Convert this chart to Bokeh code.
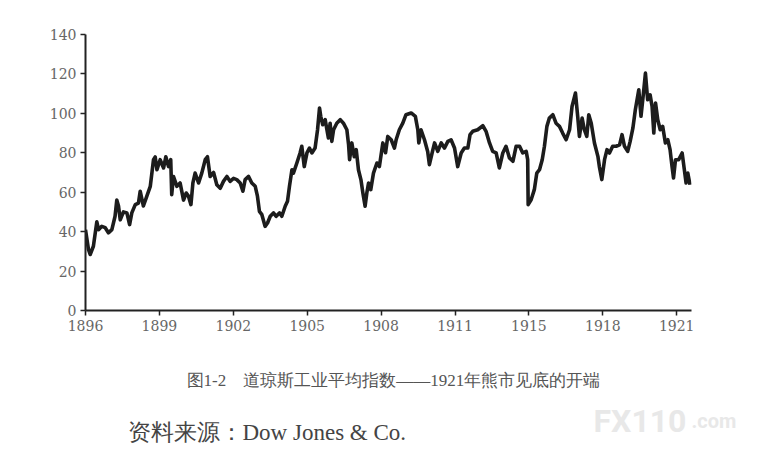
from bokeh.plotting import figure
from bokeh.layouts import column, row
from bokeh.models import Range1d, FixedTicker
from bokeh.core.properties import value
from bokeh.embed import file_html
from bokeh.resources import INLINE

# ---- data ----
years = [
    1896.00, 1896.12, 1896.19, 1896.32, 1896.46, 1896.53, 1896.66, 1896.80, 1896.93,
    1897.07, 1897.20, 1897.27, 1897.34, 1897.41, 1897.54, 1897.68, 1897.79, 1897.88,
    1898.02, 1898.15, 1898.22, 1898.35, 1898.49, 1898.63, 1898.76, 1898.83, 1898.90,
    1899.03, 1899.17, 1899.26, 1899.37, 1899.46, 1899.50, 1899.57, 1899.71, 1899.84,
    1899.98, 1900.09, 1900.18, 1900.28, 1900.36, 1900.45, 1900.59, 1900.72, 1900.86,
    1900.95, 1901.06, 1901.20, 1901.33, 1901.47, 1901.60, 1901.74, 1901.87, 1902.01,
    1902.14, 1902.28, 1902.39, 1902.48, 1902.62, 1902.75, 1902.89, 1902.98, 1903.06,
    1903.16, 1903.29, 1903.39, 1903.50, 1903.63, 1903.74, 1903.88, 1903.97, 1904.11,
    1904.20, 1904.28, 1904.38, 1904.44, 1904.58, 1904.71, 1904.78, 1904.88, 1904.99,
    1905.09, 1905.19, 1905.32, 1905.42, 1905.50, 1905.55, 1905.63, 1905.73, 1905.80,
    1905.86, 1905.93, 1906.00, 1906.07, 1906.20, 1906.34, 1906.47, 1906.61, 1906.68,
    1906.72, 1906.81, 1906.91, 1906.99, 1907.08, 1907.18, 1907.26, 1907.35, 1907.42,
    1907.49, 1907.58, 1907.69, 1907.83,
    1907.93, 1908.07, 1908.18, 1908.27, 1908.41, 1908.54, 1908.61, 1908.74, 1908.88,
    1909.01, 1909.22, 1909.39, 1909.49, 1909.53, 1909.62, 1909.76, 1909.89, 1909.96,
    1910.07, 1910.17, 1910.30, 1910.44, 1910.57, 1910.71, 1910.84, 1910.98, 1911.11,
    1911.25, 1911.38, 1911.52, 1911.61, 1911.72, 1911.92, 1912.13, 1912.26, 1912.40,
    1912.53, 1912.67, 1912.80, 1912.94, 1913.07, 1913.21, 1913.35, 1913.48, 1913.62,
    1913.75, 1913.89, 1913.95, 1913.97, 1914.09, 1914.22, 1914.32, 1914.43, 1914.54,
    1914.63, 1914.73, 1914.83, 1914.97, 1915.10, 1915.24, 1915.37, 1915.51, 1915.65,
    1915.75, 1915.89, 1915.98, 1916.05, 1916.16, 1916.25, 1916.35, 1916.43, 1916.53,
    1916.66, 1916.80, 1916.86, 1916.96, 1917.07, 1917.17, 1917.27, 1917.40, 1917.54,
    1917.68, 1917.78, 1917.88, 1918.01, 1918.11, 1918.22, 1918.32, 1918.46, 1918.55,
    1918.65, 1918.73, 1918.82, 1918.92, 1919.00, 1919.07, 1919.14, 1919.23, 1919.33,
    1919.43, 1919.54, 1919.64, 1919.73, 1919.81, 1919.87, 1919.95, 1920.08, 1920.22,
    1920.31, 1920.38, 1920.45, 1920.54,
]
dow = [
    41.0, 31.0, 28.4, 32.6, 45.0, 41.0, 42.7, 42.0, 39.4,
    41.0, 47.8, 56.0, 53.0, 46.0, 50.0, 49.5, 43.6, 49.5,
    53.7, 54.5, 60.5, 53.0, 58.0, 63.0, 76.5, 77.9, 71.4,
    76.5, 72.3, 78.0, 73.0, 76.5, 58.8, 68.0, 63.0, 64.7,
    56.0, 59.6, 58.0, 53.7, 64.7, 69.7, 64.7, 69.7, 76.5,
    78.0, 68.0, 70.0, 63.8, 62.0, 65.5, 68.0, 65.5, 67.0,
    66.4, 64.7, 60.5, 66.4, 68.0, 64.7, 63.0, 58.0, 50.3,
    48.6, 42.7, 44.4, 47.8, 49.5, 47.8, 49.5, 47.8, 53.0,
    55.4, 63.0, 71.4, 69.7, 74.8, 79.9, 83.3, 73.0, 80.0,
    82.4, 79.9, 82.4, 91.7, 102.7, 98.5, 94.2, 96.8, 91.7,
    87.5, 95.0, 85.8, 91.7, 95.0, 96.8, 95.0, 91.7, 84.0,
    76.5, 85.0, 78.0, 81.6, 71.4, 66.4, 59.6, 52.9, 59.6,
    64.7, 61.3, 69.7, 74.8,
    73.0, 85.0, 80.0, 88.3, 86.6, 82.4, 86.6, 91.7, 95.0,
    99.3, 100.2, 98.5, 91.7, 85.0, 91.7, 86.6, 80.7, 74.0,
    79.9, 85.0, 80.7, 85.0, 82.4, 85.8, 86.6, 82.4, 73.0,
    79.9, 82.4, 82.4, 89.2, 90.9, 91.7, 93.7, 90.9, 85.0,
    80.7, 79.9, 72.3, 79.9, 83.3, 77.4, 75.7, 83.3, 83.3,
    79.9, 80.7, 76.5, 53.7, 56.2, 61.3, 69.7, 71.4, 76.5,
    83.3, 93.4, 97.6, 99.3, 95.0, 93.4, 90.0, 86.6, 91.7,
    103.5, 110.3, 98.5, 88.3, 97.6, 91.7, 88.3, 99.3, 95.0,
    85.0, 78.2, 73.0, 66.4, 76.5, 81.6, 79.9, 83.3, 83.3,
    84.0, 89.2, 83.3, 80.7, 85.8, 92.5, 101.8, 112.0, 98.5,
    110.3, 120.4, 106.9, 109.4, 103.5, 90.0, 105.2, 96.8, 91.7,
    93.4, 85.0, 86.6, 81.6, 73.0, 67.2, 76.5, 76.5, 79.9,
    71.4, 64.7, 69.7, 63.8,
]
x_ticks = [1896, 1899, 1902, 1905, 1908, 1911, 1914, 1917, 1920]
x_tick_labels = ["1896", "1899", "1902", "1905", "1908", "1911", "1915", "1918", "1921"]
y_ticks = [0, 20, 40, 60, 80, 100, 120, 140]

caption = "图1-2　道琼斯工业平均指数——1921年熊市见底的开端"
source = "资料来源：Dow Jones & Co."
watermark_main = "FX110"
watermark_tail = ".com"

TICK_FONT = "DejaVu Serif"

p = figure(
    frame_width=606, frame_height=276,
    min_border_left=85, min_border_top=34, min_border_bottom=30, min_border_right=71,
    x_range=Range1d(1896, 1920.6), y_range=Range1d(0, 140),
    output_backend="svg", toolbar_location=None, tools="",
)
p.outline_line_color = None
p.grid.visible = False
p.border_fill_color = "white"

p.line(years, dow, line_color="#1c1c1c", line_width=3.6, line_join="round")

for ax in (p.xaxis[0], p.yaxis[0]):
    ax.axis_line_color = "#222222"
    ax.axis_line_width = 2
    ax.major_tick_line_color = "#222222"
    ax.major_tick_line_width = 1.5
    ax.major_tick_in = 0
    ax.major_tick_out = 5
    ax.minor_tick_line_color = None
    ax.major_label_text_font = TICK_FONT
    ax.major_label_text_font_size = "14px"
    ax.major_label_text_color = "#666666"
    ax.major_label_standoff = 4

p.xaxis[0].ticker = FixedTicker(ticks=x_ticks)
p.xaxis[0].major_label_overrides = {t: l for t, l in zip(x_ticks, x_tick_labels)}
p.yaxis[0].ticker = FixedTicker(ticks=y_ticks)

# ---- caption area in page pixel coordinates ----
t = figure(frame_width=762, frame_height=115, x_range=Range1d(0, 762), y_range=Range1d(115, 0),
           x_axis_location=None, y_axis_location=None,
           output_backend="svg", toolbar_location=None, tools="", min_border=0)
t.grid.visible = False
t.outline_line_color = None

t.text(x=[186], y=[40], text=[caption], text_font=value("Liberation Serif"), text_font_size="17px",
       text_color="#555555", text_baseline="middle", text_align="left")
t.text(x=[127], y=[92], text=[source], text_font=value("Liberation Serif"), text_font_size="23px",
       text_color="#444444", text_baseline="middle", text_align="left")
t.text(x=[593], y=[80], text=[watermark_main], text_font=value("Roboto"),
       text_font_size="32px", text_font_style="bold", text_color="#e8e8e8",
       text_baseline="alphabetic", text_align="left")
t.text(x=[691], y=[80], text=[watermark_tail], text_font=value("Roboto"),
       text_font_size="20px", text_font_style="bold", text_color="#e8e8e8",
       text_baseline="alphabetic", text_align="left")

open("out.html", "w").write(file_html(column(p, row(t)), INLINE))
